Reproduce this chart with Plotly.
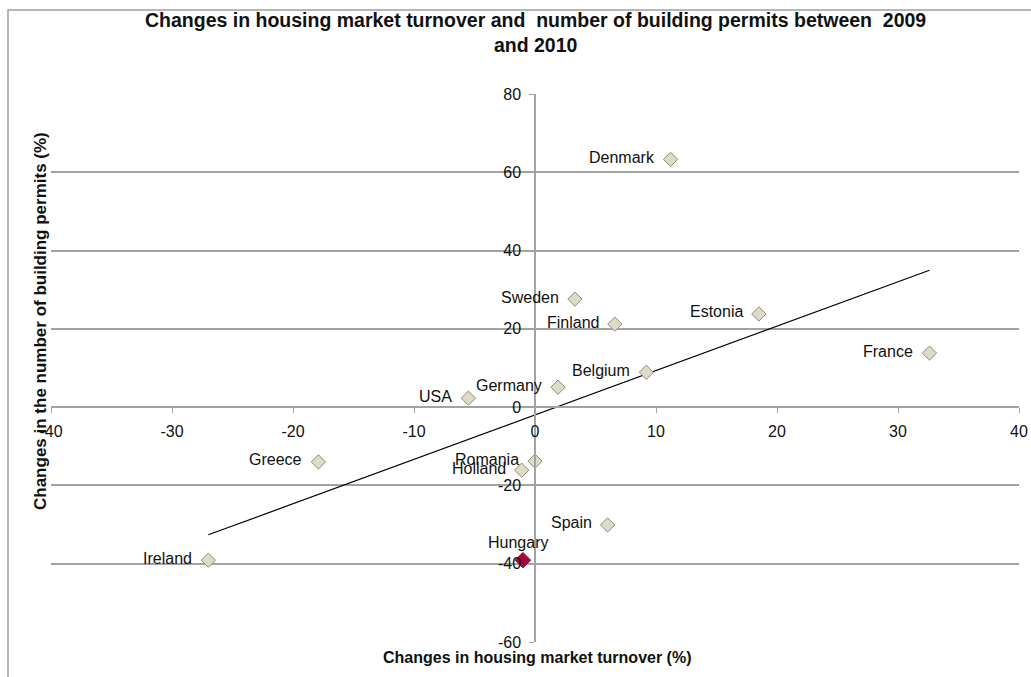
import numpy as np
import plotly.graph_objects as go

# Changes between 2009 and 2010 (%)
countries = ["Denmark", "Sweden", "Finland", "Estonia", "France", "Belgium", "Germany",
             "USA", "Romania", "Holland", "Greece", "Spain", "Ireland"]
turnover = [11.2, 3.3, 6.6, 18.5, 32.6, 9.2, 1.9, -5.5, 0.0, -1.1, -17.9, 6.0, -27.0]
permits = [63.3, 27.6, 21.2, 23.8, 13.8, 8.9, 5.1, 2.3, -13.8, -16.1, -14.0, -30.1, -39.1]

highlight_name = "Hungary"
highlight_turnover = -1.0
highlight_permits = -39.1

x_ticks = [-40, -30, -20, -10, 0, 10, 20, 30, 40]
y_ticks = [-60, -40, -20, 0, 20, 40, 60, 80]

FONT = "Liberation Sans, Arial, sans-serif"
GRID = "#a3a3a3"
LABEL_FONT = dict(family=FONT, size=16, color="#111111")

# linear trend over all countries
all_x = np.array(turnover + [highlight_turnover])
all_y = np.array(permits + [highlight_permits])
slope, intercept = np.polyfit(all_x, all_y, 1)
tx = np.array([all_x.min(), all_x.max()])
ty = slope * tx + intercept

fig = go.Figure()

fig.add_trace(go.Scatter(
    x=tx, y=ty, mode="lines",
    line=dict(color="#000000", width=1.2),
    hoverinfo="skip", showlegend=False,
))

fig.add_trace(go.Scatter(
    x=turnover, y=permits, mode="markers",
    text=countries,
    marker=dict(symbol="diamond", size=11, color="#DDDAC6",
                line=dict(color="#8E8C7C", width=1)),
    showlegend=False,
))

fig.add_trace(go.Scatter(
    x=[highlight_turnover], y=[highlight_permits], mode="markers",
    text=[highlight_name],
    marker=dict(symbol="diamond", size=12, color="#A3083A",
                line=dict(color="#A3083A", width=1)),
    showlegend=False,
))

# country names to the left of each marker
point_labels = [
    dict(x=xv, y=yv, text=name, xref="x", yref="y", showarrow=False,
         xanchor="right", yanchor="middle", xshift=-14, yshift=2, font=LABEL_FONT)
    for name, xv, yv in zip(countries, turnover, permits)
]
point_labels.append(
    dict(x=highlight_turnover, y=highlight_permits, text=highlight_name,
         xref="x", yref="y", showarrow=False, xanchor="center", yanchor="bottom",
         xshift=-5, yshift=7, font=LABEL_FONT)
)

fig.update_layout(
    width=1031, height=677,
    margin=dict(l=51, r=12, t=94, b=35, autoexpand=False),
    paper_bgcolor="white", plot_bgcolor="white",
    font=dict(family=FONT, size=15, color="#111111"),
    xaxis=dict(
        range=[-40, 40], tickvals=x_ticks, ticktext=[str(v) for v in x_ticks],
        showgrid=False, zeroline=False, automargin=False,
        showline=True, linecolor=GRID, linewidth=1.5,
        ticks="outside", ticklen=5, tickcolor=GRID, tickwidth=1,
        anchor="free", position=60 / 140,
        ticklabelstandoff=5, ticklabeloverflow="allow",
        tickfont=dict(family=FONT, size=16, color="#111111"),
    ),
    yaxis=dict(
        range=[-60, 80], tickvals=y_ticks, ticktext=[str(v) for v in y_ticks],
        showgrid=True, gridcolor=GRID, gridwidth=1.5,
        zeroline=False, automargin=False,
        showline=True, linecolor=GRID, linewidth=1.5,
        ticks="outside", ticklen=5, tickcolor=GRID, tickwidth=1,
        anchor="free", position=0.5,
        ticklabelstandoff=5,
        tickfont=dict(family=FONT, size=16, color="#111111"),
    ),
    annotations=point_labels + [
        dict(text="<b>Changes in housing market turnover and  number of building permits between  2009<br>and 2010</b>",
             xref="paper", yref="paper", x=0.5, y=(642 - 33) / 548,
             xanchor="center", yanchor="middle", showarrow=False,
             font=dict(family=FONT, size=19.5, color="#111111")),
        dict(text="<b>Changes in housing market turnover (%)</b>",
             xref="paper", yref="paper", x=(537 - 51) / 968, y=(642 - 657) / 548,
             xanchor="center", yanchor="middle", showarrow=False,
             font=dict(family=FONT, size=16, color="#111111")),
        dict(text="<b>Changes in the number of building permits (%)</b>",
             xref="paper", yref="paper", x=(40 - 51) / 968, y=(642 - 321) / 548,
             xanchor="center", yanchor="middle", textangle=-90, showarrow=False,
             font=dict(family=FONT, size=17, color="#111111")),
    ],
    shapes=[
        dict(type="rect", xref="paper", yref="paper",
             x0=(8 - 51) / 968, x1=1.2, y0=-0.3, y1=(642 - 10) / 548,
             line=dict(color="#a0a0a0", width=1.5), fillcolor="rgba(0,0,0,0)", layer="below"),
    ],
)

fig.write_html("out.html")
